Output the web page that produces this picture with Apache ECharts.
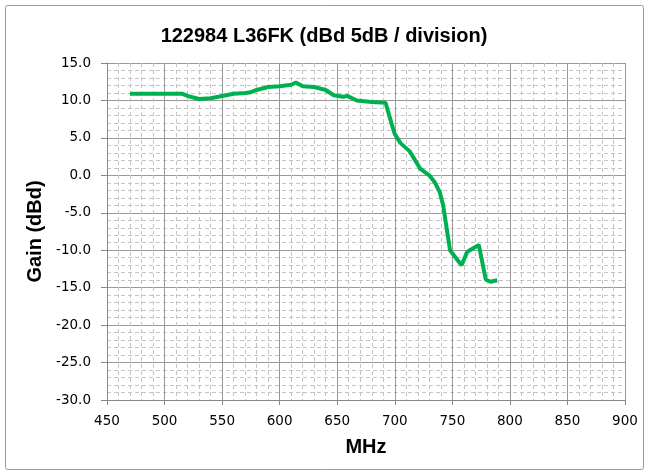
<!DOCTYPE html>
<html><head><meta charset="utf-8">
<script src="https://cdn.jsdelivr.net/npm/echarts@6/dist/echarts.min.js"></script>
<style>html,body{margin:0;padding:0;background:#fff}#c{width:648px;height:476px}</style>
</head><body><div id="c"></div>
<script>
const freqs = [470,480,490,500,510,515,520,530,540,550,560,570,575,580,590,600,605,610,614,620,630,640,647,655,659,667,680,692,697,700,705,713,722,730,735,739,742,748,758,763,773,779,783,789];
const gains = [10.9,10.9,10.9,10.9,10.9,10.9,10.6,10.2,10.3,10.6,10.9,11.0,11.1,11.4,11.8,11.9,12.0,12.1,12.4,11.9,11.8,11.4,10.7,10.5,10.6,10.0,9.8,9.7,7.0,5.5,4.3,3.2,0.9,0.0,-1.0,-2.2,-4.0,-10.0,-12.0,-10.2,-9.3,-13.9,-14.2,-14.0];
const titleText = '122984 L36FK (dBd 5dB / division)';
const xName = 'MHz';
const yName = 'Gain (dBd)';

const chart = echarts.init(document.getElementById('c'));
const font = 'Liberation Sans, Arial, sans-serif';
const tickFont = 'DejaVu Sans, Verdana, sans-serif';
chart.setOption({
  animation: false,
  title: { text: titleText, left: 'center', top: 21, textStyle: { fontFamily: font, fontSize: 20, fontWeight: 'bold', color: '#000' } },
  graphic: [{ type: 'rect', shape: { x: 5.5, y: 5.5, width: 638, height: 464, r: 2 }, style: { fill: 'none', stroke: '#999', lineWidth: 1 }, silent: true }],
  grid: { left: 107, right: 23, top: 63, bottom: 76 },
  xAxis: {
    type: 'value', min: 450, max: 900, interval: 50,
    name: xName, nameLocation: 'middle', nameGap: 37,
    nameTextStyle: { fontFamily: font, fontSize: 20, fontWeight: 'bold', color: '#000' },
    axisLine: { onZero: false, lineStyle: { color: '#888' } },
    axisTick: { show: true, length: 5, lineStyle: { color: '#888' } },
    axisLabel: { fontFamily: tickFont, fontSize: 13.5, color: '#000', margin: 14 },
    splitLine: { lineStyle: { color: '#999', width: 1 } },
    minorTick: { show: false, splitNumber: 5 },
    minorSplitLine: { show: true, lineStyle: { color: '#c4c4c4', type: [4, 3], width: 1 } }
  },
  yAxis: {
    type: 'value', min: -30, max: 15, interval: 5,
    name: yName, nameLocation: 'middle', nameGap: 57, nameRotate: 90,
    nameTextStyle: { fontFamily: font, fontSize: 20, fontWeight: 'bold', color: '#000' },
    axisLine: { show: true, lineStyle: { color: '#888' } },
    axisTick: { show: true, length: 6, lineStyle: { color: '#888' } },
    axisLabel: { fontFamily: tickFont, fontSize: 13.5, color: '#000', margin: 16, formatter: v => v.toFixed(1) },
    splitLine: { lineStyle: { color: '#999', width: 1 } },
    minorTick: { show: false, splitNumber: 5 },
    minorSplitLine: { show: true, lineStyle: { color: '#c4c4c4', type: [4, 3], width: 1 } }
  },
  series: [{
    type: 'line', data: freqs.map((f, i) => [f, gains[i]]),
    showSymbol: false, smooth: false,
    lineStyle: { color: '#00b050', width: 4 }
  }]
});
</script></body></html>
